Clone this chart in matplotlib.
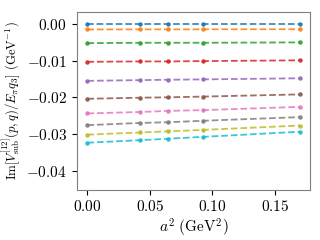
import matplotlib
matplotlib.use("Agg")
import matplotlib.pyplot as plt

plt.rcParams["font.family"] = "cmr10"
plt.rcParams["mathtext.fontset"] = "cm"
plt.rcParams["axes.formatter.use_mathtext"] = True
plt.rcParams["font.size"] = 11

a2 = [0.0, 0.0424, 0.0649, 0.0925, 0.170]

im_v = [
    [0.0000, 0.0000, 0.0000, 0.0000, 0.0000],
    [-0.00147, -0.00145, -0.00144, -0.00143, -0.00140],
    [-0.0052, -0.0051, -0.0051, -0.0051, -0.0050],
    [-0.0103, -0.0102, -0.0102, -0.0101, -0.0099],
    [-0.0155, -0.0153, -0.0152, -0.0151, -0.0148],
    [-0.0204, -0.0201, -0.0200, -0.0198, -0.0192],
    [-0.0244, -0.0240, -0.0237, -0.0235, -0.0226],
    [-0.0276, -0.0270, -0.0268, -0.0264, -0.0254],
    [-0.0302, -0.0296, -0.0293, -0.0289, -0.0277],
    [-0.0324, -0.0317, -0.0313, -0.0308, -0.0294],
]

fig, ax = plt.subplots(figsize=(3.2, 2.4), dpi=100)

for i, vals in enumerate(im_v):
    ax.plot(a2, vals, "--", marker=".", color=f"C{i}", lw=1.3, ms=4.5, alpha=0.85)

ax.set_ylim(-0.0452, 0.0033)
ax.set_xticks([0.0, 0.05, 0.10, 0.15])
ax.set_yticks([0.0, -0.01, -0.02, -0.03, -0.04])
ax.set_xlabel(r"$a^2\ (\mathrm{GeV}^2)$", labelpad=2)
ax.set_ylabel(r"$\mathrm{Im}[V^{[12]}_{\mathrm{sub}}(p,q)/E_\pi q_3]\ (\mathrm{GeV}^{-1})$",
              fontsize=9.2, labelpad=3)
for s in ax.spines.values():
    s.set_color("#808080")

fig.subplots_adjust(left=0.24, right=0.97, bottom=0.21, top=0.95)
fig.savefig("out.png")
